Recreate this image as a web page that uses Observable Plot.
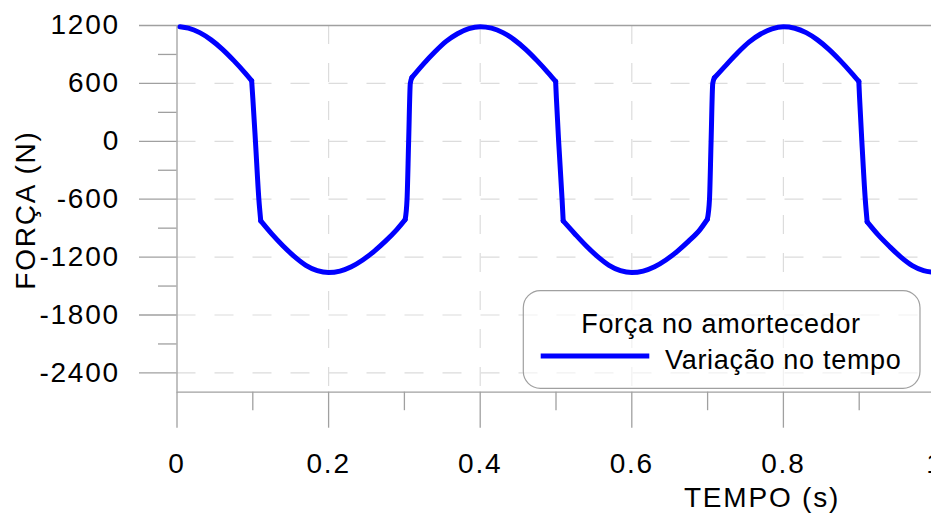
<!DOCTYPE html>
<html>
<head>
<meta charset="utf-8">
<script src="https://cdn.jsdelivr.net/npm/d3@7"></script>
<script src="https://cdn.jsdelivr.net/npm/@observablehq/plot@0.6"></script>
<style>
  html, body { margin: 0; padding: 0; background: #fff; }
  #chart { width: 931px; height: 514px; overflow: hidden; }
</style>
</head>
<body>
<div id="chart"></div>
<script>
// ---- data ----
const tempo = [
  0.004, 0.015, 0.030, 0.045, 0.060, 0.075, 0.090, 0.0985, 0.1000, 0.1035, 0.1080, 0.1105,
  0.125, 0.140, 0.155, 0.170, 0.185, 0.200, 0.215, 0.230, 0.245, 0.260, 0.275, 0.290,
  0.301, 0.3035, 0.3056, 0.3078, 0.310, 0.325, 0.340, 0.355, 0.370, 0.385, 0.400,
  0.415, 0.430, 0.445, 0.460, 0.475, 0.490, 0.4995, 0.5005, 0.5035, 0.5080, 0.5095,
  0.525, 0.540, 0.555, 0.570, 0.585, 0.600, 0.615, 0.630, 0.645, 0.660, 0.675, 0.690,
  0.6997, 0.7025, 0.7046, 0.7068, 0.7090, 0.725, 0.740, 0.755, 0.770, 0.785, 0.800,
  0.815, 0.830, 0.845, 0.860, 0.875, 0.890, 0.8995, 0.9005, 0.9035, 0.9080, 0.9105,
  0.925, 0.940, 0.955, 0.970, 0.985, 1.000
];
const forca = [
  1186, 1172, 1126, 1051, 953, 836, 707, 628, 450, 0, -600, -825,
  -960, -1085, -1195, -1285, -1340, -1360, -1345, -1300, -1230, -1140, -1035, -915,
  -812, -600, 0, 600, 662, 800, 925, 1035, 1115, 1168, 1188,
  1172, 1126, 1051, 953, 836, 707, 620, 450, 0, -600, -825,
  -960, -1085, -1195, -1285, -1340, -1360, -1345, -1300, -1230, -1140, -1035, -915,
  -808, -600, 0, 600, 658, 795, 920, 1030, 1112, 1165, 1186,
  1172, 1126, 1051, 953, 836, 707, 620, 450, 0, -600, -835,
  -970, -1090, -1200, -1288, -1340, -1360
];
const yMajor = [1200, 600, 0, -600, -1200, -1800, -2400];
const yMinor = [900, 300, -300, -900, -1500, -2100];
const xMajor = [0, 0.2, 0.4, 0.6, 0.8, 1];
const xMinor = [0.1, 0.3, 0.5, 0.7, 0.9];
const xGrid = [0.2, 0.4, 0.6, 0.8];
const yLabel = "FORÇA (N)";
const xLabel = "TEMPO (s)";
const legendTitle = "Força no amortecedor";
const seriesName = "Variação no tempo";

// split the series into smooth arcs and steep valve transitions so that each
// piece is interpolated on its own (the kinks stay sharp, the arcs stay round)
const rows = [];
let piece = 0, prevSteep = null;
for (let i = 0; i < tempo.length - 1; i++) {
  const steep = Math.abs((forca[i + 1] - forca[i]) / (tempo[i + 1] - tempo[i])) > 20000;
  if (prevSteep === null || steep !== prevSteep) {
    piece++;
    rows.push({t: tempo[i], f: forca[i], piece});
  }
  rows.push({t: tempo[i + 1], f: forca[i + 1], piece});
  prevSteep = steep;
}

const axisGray = "#a0a0a0";
const gridGray = "#dcdcdc";
const blue = "#0000ff";

const chart = Plot.plot({
  width: 931,
  height: 514,
  marginLeft: 176.5,
  marginRight: -3.5,
  marginTop: 25,
  marginBottom: 122.3,
  style: {fontFamily: "'Liberation Sans', Arial, sans-serif", background: "#fff", letterSpacing: "1.8px", color: "#000"},
  x: {domain: [0, 1], range: [176.5, 934.5]},
  y: {domain: [-2600, 1200], range: [391.7, 25]},
  marks: [
    Plot.gridY(yMajor, {stroke: gridGray, strokeOpacity: 1, strokeWidth: 1.2, strokeDasharray: "19,19"}),
    Plot.gridX(xGrid, {stroke: gridGray, strokeOpacity: 1, strokeWidth: 1.2, strokeDasharray: "19,19"}),
    Plot.ruleY([1200, -2600], {stroke: axisGray, strokeWidth: 1.3}),
    Plot.ruleX([0], {y1: 1200, y2: -2600, stroke: axisGray, strokeWidth: 1.3}),
    Plot.axisY(yMajor, {anchor: "left", tickSize: 37.5, tickPadding: 19.5, stroke: axisGray, strokeWidth: 1.3,
      fill: "#000", fontSize: 28, tickFormat: d => String(d), label: null}),
    Plot.axisY(yMinor, {anchor: "left", tickSize: 18.5, stroke: axisGray, strokeWidth: 1.3, text: null, label: null}),
    Plot.axisX(xMajor, {anchor: "bottom", tickSize: 36, tickPadding: 25, stroke: axisGray, strokeWidth: 1.3,
      fill: "#000", fontSize: 28, tickFormat: d => String(d), label: null}),
    Plot.axisX(xMinor, {anchor: "bottom", tickSize: 18.5, stroke: axisGray, strokeWidth: 1.3, text: null, label: null}),
    Plot.line(rows, {x: "t", y: "f", z: "piece", stroke: blue, strokeWidth: 5, curve: "monotone-x",
      strokeLinejoin: "round", strokeLinecap: "round"})
  ]
});

const svg = d3.select(chart);
svg.style("overflow", "hidden");

// axis titles
svg.append("text")
  .attr("transform", "translate(35,210) rotate(-90)")
  .attr("text-anchor", "middle")
  .attr("font-size", 28)
  .attr("fill", "#000")
  .text(yLabel);
svg.append("text")
  .attr("x", 762).attr("y", 506.7)
  .attr("text-anchor", "middle")
  .attr("font-size", 28)
  .attr("fill", "#000")
  .text(xLabel);

// legend
const lg = svg.append("g").style("letter-spacing", "0.7px");
lg.append("rect")
  .attr("x", 523.3).attr("y", 290.7).attr("width", 396.7).attr("height", 97.6)
  .attr("rx", 17).attr("ry", 17)
  .attr("fill", "#fff").attr("fill-opacity", 0.6)
  .attr("stroke", axisGray).attr("stroke-width", 1.2);
lg.append("text")
  .attr("x", 721).attr("y", 333.3)
  .attr("text-anchor", "middle").attr("font-size", 27).attr("fill", "#000")
  .text(legendTitle);
lg.append("line")
  .attr("x1", 540.7).attr("x2", 649.3).attr("y1", 356).attr("y2", 356)
  .attr("stroke", blue).attr("stroke-width", 5);
lg.append("text")
  .attr("x", 665).attr("y", 368.5)
  .attr("text-anchor", "start").attr("font-size", 27).attr("fill", "#000")
  .text(seriesName);

document.getElementById("chart").appendChild(chart);
</script>
</body>
</html>
